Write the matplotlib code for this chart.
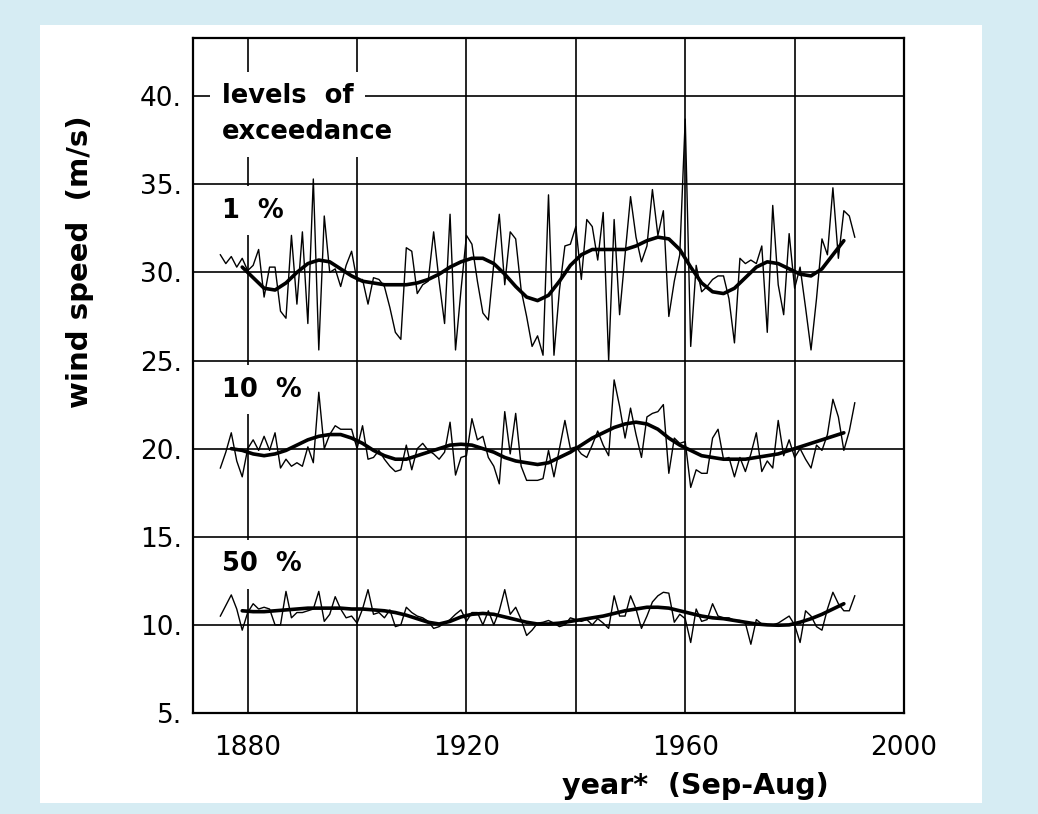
import numpy as np
import matplotlib
matplotlib.use("Agg")
import matplotlib.pyplot as plt
from matplotlib.patches import Rectangle

# annual values, 1875..1991
years = np.arange(1875, 1992)

exc_1 = [
    31.0, 30.5, 30.9, 30.3, 30.8,                                  # 1875-79
    30.1, 30.4, 31.3, 28.6, 30.3, 30.3, 27.8, 27.4, 32.1, 28.2,    # 1880s
    32.3, 27.1, 35.3, 25.6, 33.2, 30.0, 30.2, 29.2, 30.4, 31.2,    # 1890s
    29.5, 29.6, 28.2, 29.7, 29.6, 29.2, 28.0, 26.6, 26.2, 31.4,    # 1900s
    31.2, 28.8, 29.3, 29.5, 32.3, 29.5, 27.1, 33.3, 25.6, 29.0,    # 1910s
    32.1, 31.6, 29.5, 27.7, 27.3, 30.5, 33.3, 29.3, 32.3, 31.9,    # 1920s
    29.0, 27.5, 25.8, 26.4, 25.3, 34.4, 25.3, 29.0, 31.5, 31.6,    # 1930s
    32.6, 29.6, 33.0, 32.6, 30.7, 33.4, 25.0, 33.0, 27.6, 31.0,    # 1940s
    34.3, 32.0, 30.6, 31.5, 34.7, 32.1, 33.5, 27.5, 29.5, 31.0,    # 1950s
    38.7, 25.8, 30.4, 28.9, 29.2, 29.6, 29.8, 29.8, 28.5, 26.0,    # 1960s
    30.8, 30.5, 30.7, 30.5, 31.5, 26.6, 33.8, 29.3, 27.6, 32.2,    # 1970s
    29.1, 30.3, 28.0, 25.6, 28.5, 31.9, 31.0, 34.8, 30.8, 33.5,    # 1980s
    33.2, 32.0,                                                    # 1990-91
]

exc_10 = [
    18.9, 19.8, 20.9, 19.3, 18.4,
    20.0, 20.5, 19.9, 20.7, 19.9, 20.9, 18.9, 19.4, 19.0, 19.2,
    19.0, 20.1, 19.2, 23.2, 20.0, 20.8, 21.3, 21.1, 21.1, 21.1,
    20.0, 21.3, 19.4, 19.5, 19.9, 19.4, 19.0, 18.7, 18.8, 20.2,
    18.8, 20.0, 20.3, 19.9, 19.7, 19.4, 19.8, 21.5, 18.5, 19.5,
    19.6, 21.7, 20.5, 20.7, 19.5, 19.0, 18.0, 22.1, 19.7, 22.0,
    19.0, 18.2, 18.2, 18.2, 18.3, 19.9, 18.4, 20.0, 21.6, 20.0,
    20.1, 19.7, 19.5, 20.2, 21.0, 20.2, 19.6, 23.9, 22.4, 20.6,
    22.3, 20.8, 19.5, 21.8, 22.0, 22.1, 22.5, 18.6, 20.6, 20.3,
    20.4, 17.8, 18.8, 18.6, 18.6, 20.6, 21.1, 19.4, 19.5, 18.4,
    19.5, 18.7, 19.7, 20.9, 18.7, 19.3, 18.9, 21.6, 19.6, 20.5,
    19.5, 20.0, 19.4, 18.9, 20.2, 19.9, 20.8, 22.8, 21.8, 19.9,
    21.0, 22.6,
]

exc_50 = [
    10.5, 11.1, 11.7, 10.9, 9.7,
    10.7, 11.2, 10.9, 11.0, 10.9, 10.0, 10.0, 11.9, 10.4, 10.7,
    10.7, 10.8, 10.9, 11.9, 10.2, 10.6, 11.6, 10.9, 10.4, 10.5,
    10.1, 10.9, 12.0, 10.6, 10.7, 10.4, 10.85, 9.9, 10.0, 11.0,
    10.7, 10.5, 10.4, 10.2, 9.8, 9.9, 10.1, 10.3, 10.6, 10.85,
    10.2, 10.7, 10.7, 10.0, 10.8, 10.0, 10.8, 12.0, 10.6, 11.0,
    10.3, 9.4, 9.7, 10.1, 10.15, 10.25, 10.1, 9.9, 10.0, 10.4,
    10.3, 10.2, 10.3, 10.0, 10.35, 10.1, 9.8, 11.65, 10.5, 10.5,
    11.65, 10.9, 9.8, 10.5, 11.3, 11.65, 11.85, 11.8, 10.15, 10.6,
    10.35, 9.0, 10.9, 10.2, 10.3, 11.2, 10.5, 10.4, 10.4, 10.25,
    10.25, 10.1, 8.9, 10.3, 10.05, 10.0, 10.0, 10.1, 10.3, 10.5,
    10.0, 9.0, 10.8, 10.5, 9.9, 9.7, 10.9, 11.85, 11.2, 10.8,
    10.8, 11.65,
]

# smoothed curves, read every second year
smooth_years = np.arange(1879, 1990, 2)
smooth_years_10 = np.arange(1877, 1990, 2)

smooth_1 = [
    30.3, 29.7, 29.1, 29.0, 29.4, 30.0, 30.5, 30.7, 30.6, 30.2,
    29.8, 29.5, 29.4, 29.3, 29.3, 29.3, 29.4, 29.6, 29.9, 30.3,
    30.6, 30.8, 30.8, 30.5, 29.9, 29.2, 28.6, 28.4, 28.7, 29.5,
    30.4, 31.0, 31.3, 31.3, 31.3, 31.3, 31.5, 31.8, 32.0, 31.9,
    31.3, 30.3, 29.4, 28.9, 28.8, 29.1, 29.7, 30.3, 30.6, 30.5,
    30.2, 29.9, 29.8, 30.2, 31.0, 31.8,
]

smooth_10 = [
    20.0, 19.9, 19.7, 19.6, 19.7, 19.9, 20.2, 20.5, 20.7, 20.8,
    20.8, 20.6, 20.3, 19.9, 19.6, 19.4, 19.4, 19.6, 19.8, 20.0,
    20.2, 20.25, 20.2, 20.0, 19.8, 19.5, 19.3, 19.2, 19.1, 19.2,
    19.5, 19.8, 20.2, 20.6, 20.9, 21.2, 21.4, 21.5, 21.4, 21.1,
    20.6, 20.2, 19.9, 19.6, 19.5, 19.4, 19.4, 19.4, 19.5, 19.6,
    19.7, 19.9, 20.1, 20.3, 20.5, 20.7, 20.9,
]

smooth_50 = [
    10.8, 10.75, 10.75, 10.8, 10.85, 10.9, 10.95, 10.95, 10.95, 10.95,
    10.9, 10.9, 10.85, 10.8, 10.7, 10.55, 10.35, 10.15, 10.05, 10.2,
    10.45, 10.6, 10.65, 10.6, 10.45, 10.3, 10.15, 10.05, 10.05, 10.1,
    10.2, 10.3, 10.4, 10.5, 10.65, 10.8, 10.9, 11.0, 11.0, 10.95,
    10.8, 10.65, 10.5, 10.4, 10.35, 10.25, 10.15, 10.05, 10.0, 9.98,
    10.0, 10.15, 10.35, 10.6, 10.9, 11.2,
]

y_ticks = [5, 10, 15, 20, 25, 30, 35, 40]
x_ticks = [1880, 1920, 1960, 2000]
x_grid_minor = [1900, 1940, 1980]


fig = plt.figure(figsize=(10.38, 8.14), dpi=100)
fig.patch.set_facecolor('#d6ecf3')
fig.patches.append(Rectangle((40 / 1038, 1 - 803 / 814), 942 / 1038, 778 / 814,
                             transform=fig.transFigure, facecolor='white',
                             edgecolor='none', zorder=-10))

ax = fig.add_axes([193 / 1038, 1 - 713 / 814, 711 / 1038, 675 / 814])
ax.set_zorder(5)
ax.set_xlim(1870, 2000)
ax.set_ylim(5, 43.3)

ax.set_xticks(x_ticks)
ax.set_xticks(x_grid_minor, minor=True)
ax.set_yticks(y_ticks)
ax.set_yticklabels([f"{v}." for v in y_ticks])
ax.grid(True, which='both', color='black', linewidth=1.2)
ax.set_axisbelow(True)
ax.tick_params(which='both', length=0, labelsize=19)
ax.tick_params(axis='x', pad=16)
ax.tick_params(axis='y', pad=8)
for s in ax.spines.values():
    s.set_linewidth(1.6)

for raw in (exc_1, exc_10, exc_50):
    ax.plot(years, raw, color='black', linewidth=1.0, zorder=4)
for sy, sm in ((smooth_years, smooth_1), (smooth_years_10, smooth_10),
               (smooth_years, smooth_50)):
    ax.plot(sy, sm, color='black', linewidth=2.6, zorder=5,
            solid_joinstyle='round', solid_capstyle='round')

box = dict(boxstyle='square,pad=0.45', facecolor='white', edgecolor='none')
labels = [("levels  of", 40.0), ("exceedance", 37.95),
          ("1  %", 33.5), ("10  %", 23.35), ("50  %", 13.45)]
for txt, yv in labels:
    ax.text(1875.3, yv, txt, fontsize=18.5, fontweight='bold', ha='left',
            va='center', bbox=box, zorder=3)

fig.text(695 / 1038, 1 - 786 / 814, "year*  (Sep-Aug)", ha='center',
         va='center', fontsize=20.5, fontweight='bold')
fig.text(80 / 1038, 1 - 262 / 814, "wind speed  (m/s)", ha='center',
         va='center', rotation=90, fontsize=21, fontweight='bold')

fig.savefig("out.png", dpi=100, facecolor=fig.get_facecolor())
